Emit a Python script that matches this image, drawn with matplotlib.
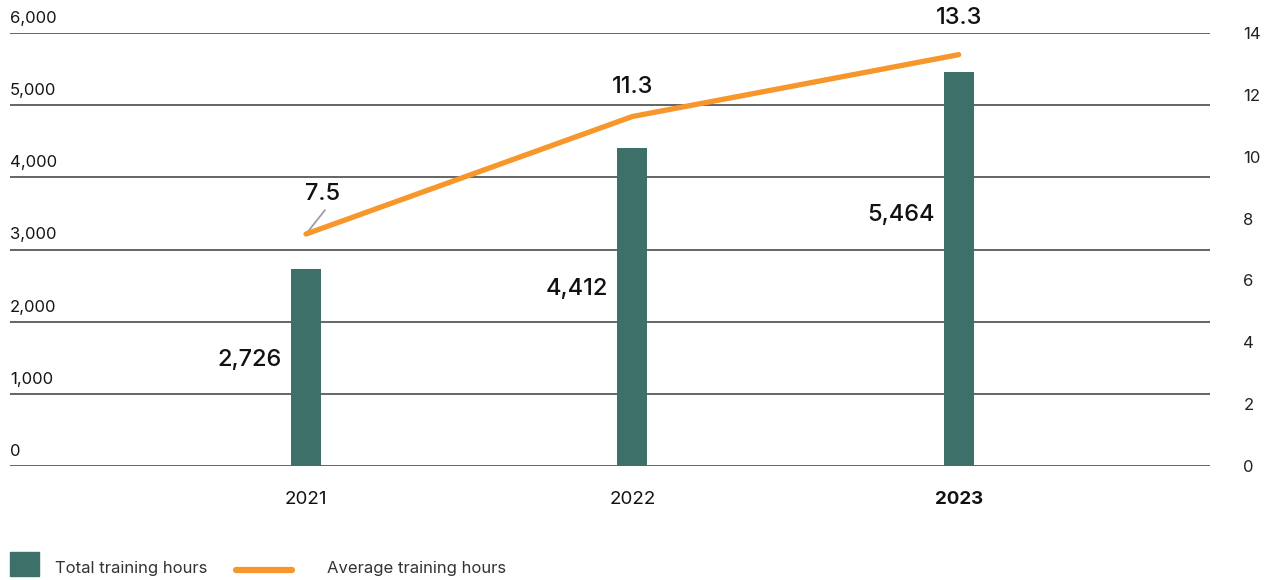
import matplotlib.pyplot as plt
from matplotlib.patches import Rectangle
from matplotlib.lines import Line2D
from matplotlib.transforms import blended_transform_factory, offset_copy

plt.rcParams['font.family'] = ['Inter', 'DejaVu Sans']

years = ['2021', '2022', '2023']
total_hours = [2726, 4412, 5464]
avg_hours = [7.5, 11.3, 13.3]

left_ticks = [0, 1000, 2000, 3000, 4000, 5000, 6000]
right_ticks = [0, 2, 4, 6, 8, 10, 12, 14]

bar_color = '#3d7068'
line_color = '#f7962a'
grid_color = '#3a3a3a'

# where the bar value labels sit (left axis units) and the line label offsets (px)
bar_label_y = [1470, 2450, 3480]
line_label_off = [(17, 40), (0, 30), (0, 37)]

fig = plt.figure(figsize=(12.71, 5.80), dpi=100)
W, H = 1271, 580
ax = fig.add_axes([10 / W, (H - 466) / H, 1200 / W, 433 / H])
ax2 = ax.twinx()

x = list(range(len(years)))
ax.bar(x, total_hours, width=0.092, color=bar_color, zorder=2)
ax.set_ylim(0, 6000)
ax.set_xlim(-0.907, 2.77)

for t in left_ticks:
    ax.axhline(t, color=grid_color, lw=1.1, zorder=1)
trans = offset_copy(blended_transform_factory(ax.transAxes, ax.transData),
                    fig=fig, y=7, units='dots')
for t in left_ticks:
    ax.text(0, t, f'{t:,}', transform=trans, ha='left', va='bottom',
            fontsize=12, color='#151515')
ax.set_yticks([])

ax.set_xticks(x)
ax.set_xticklabels(years, fontsize=13.5, color='#111111')
ax.get_xticklabels()[-1].set_fontweight('bold')
ax.tick_params(axis='x', length=0, pad=18)

for xi, v, ly in zip(x, total_hours, bar_label_y):
    ax.annotate(f'{v:,}', xy=(xi - 0.046, ly), xytext=(-9, 0),
                textcoords='offset pixels', ha='right', va='center',
                fontsize=17, fontweight='medium', color='#111111')

ax2.plot(x, avg_hours, color=line_color, lw=3.8, solid_capstyle='round', zorder=3)
ax2.set_ylim(0, 14)
ax2.set_yticks(right_ticks)
ax2.set_yticklabels([str(t) for t in right_ticks], fontsize=12, color='#222222')
ax2.tick_params(axis='y', length=0, pad=24)

for xi, v, off in zip(x, avg_hours, line_label_off):
    ax2.annotate(f'{v}', xy=(xi, v), xytext=off,
                 textcoords='offset pixels', ha='center', va='center',
                 fontsize=17, fontweight='medium', color='#111111')

# leader line from the first point up to its label
ax2.annotate('', xy=(x[0], avg_hours[0]), xytext=(19, 24),
             textcoords='offset pixels',
             arrowprops=dict(arrowstyle='-', color='#999999', lw=1.2,
                             shrinkA=0, shrinkB=1), zorder=2)

for a in (ax, ax2):
    for s in a.spines.values():
        s.set_visible(False)

# legend drawn by hand along the bottom
fig.patches.append(Rectangle((10 / W, (H - 576) / H), 29 / W, 24 / H,
                             transform=fig.transFigure, color=bar_color))
fig.text(55 / W, (H - 569) / H, 'Total training hours', fontsize=12,
         va='center', ha='left', color='#333333')
fig.lines.append(Line2D([236 / W, 292 / W], [(H - 570) / H] * 2,
                        transform=fig.transFigure, color=line_color, lw=4.5,
                        solid_capstyle='round'))
fig.text(327 / W, (H - 569) / H, 'Average training hours', fontsize=12,
         va='center', ha='left', color='#333333')

fig.savefig('out.png', dpi=100)
